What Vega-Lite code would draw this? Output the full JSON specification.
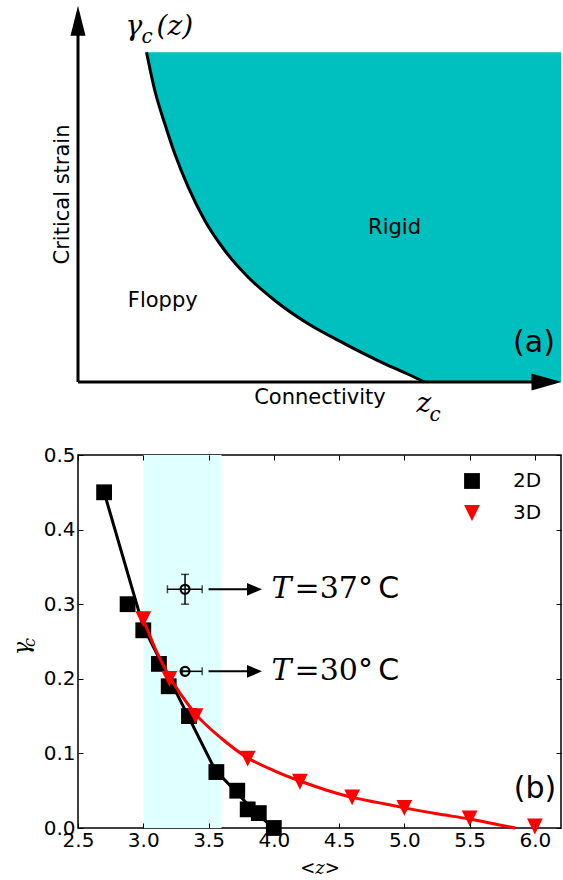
{
  "$schema": "https://vega.github.io/schema/vega-lite/v6.json",
  "padding": {"left": 10, "top": 5, "right": 0, "bottom": 0},
  "spacing": 19,
  "config": {"font": "DejaVu Sans", "view": {"stroke": null}},
  "resolve": {"scale": {"color": "independent", "shape": "independent"}, "legend": {"color": "independent", "shape": "independent"}},
  "datasets": {
    "curve": [
      {"conn": 1.418, "strain": 8.771},
      {"conn": 1.590, "strain": 7.753},
      {"conn": 1.797, "strain": 6.867},
      {"conn": 2.004, "strain": 6.069},
      {"conn": 2.282, "strain": 5.181},
      {"conn": 2.625, "strain": 4.295},
      {"conn": 3.039, "strain": 3.497},
      {"conn": 3.524, "strain": 2.787},
      {"conn": 4.075, "strain": 2.168},
      {"conn": 4.766, "strain": 1.548},
      {"conn": 5.524, "strain": 1.016},
      {"conn": 6.352, "strain": 0.484},
      {"conn": 6.801, "strain": 0.226},
      {"conn": 7.174, "strain": 0.0},
      {"conn": 10.0, "strain": 0.0}
    ],
    "pts": [
      {"z": 2.7, "gamma": 0.45, "series": "2D"},
      {"z": 2.88, "gamma": 0.30, "series": "2D"},
      {"z": 3.0, "gamma": 0.265, "series": "2D"},
      {"z": 3.12, "gamma": 0.22, "series": "2D"},
      {"z": 3.195, "gamma": 0.19, "series": "2D"},
      {"z": 3.35, "gamma": 0.15, "series": "2D"},
      {"z": 3.56, "gamma": 0.075, "series": "2D"},
      {"z": 3.72, "gamma": 0.05, "series": "2D"},
      {"z": 3.80, "gamma": 0.025, "series": "2D"},
      {"z": 3.885, "gamma": 0.02, "series": "2D"},
      {"z": 4.0, "gamma": 0.0, "series": "2D"},
      {"z": 3.0, "gamma": 0.28, "series": "3D"},
      {"z": 3.2, "gamma": 0.2, "series": "3D"},
      {"z": 3.4, "gamma": 0.15, "series": "3D"},
      {"z": 3.8, "gamma": 0.093, "series": "3D"},
      {"z": 4.2, "gamma": 0.062, "series": "3D"},
      {"z": 4.6, "gamma": 0.041, "series": "3D"},
      {"z": 5.0, "gamma": 0.027, "series": "3D"},
      {"z": 5.5, "gamma": 0.013, "series": "3D"},
      {"z": 6.0, "gamma": 0.002, "series": "3D"}
    ],
    "fit": [
      {"z": 2.7, "gamma": 0.45, "series": "2D"},
      {"z": 3.0, "gamma": 0.27, "series": "2D"},
      {"z": 3.55, "gamma": 0.078, "series": "2D"},
      {"z": 3.72, "gamma": 0.047, "series": "2D"},
      {"z": 3.85, "gamma": 0.022, "series": "2D"},
      {"z": 4.0, "gamma": 0.0, "series": "2D"},
      {"z": 2.96, "gamma": 0.29, "series": "3D"},
      {"z": 3.0, "gamma": 0.278, "series": "3D"},
      {"z": 3.1, "gamma": 0.237, "series": "3D"},
      {"z": 3.2, "gamma": 0.203, "series": "3D"},
      {"z": 3.3, "gamma": 0.176, "series": "3D"},
      {"z": 3.4, "gamma": 0.153, "series": "3D"},
      {"z": 3.6, "gamma": 0.12, "series": "3D"},
      {"z": 3.8, "gamma": 0.094, "series": "3D"},
      {"z": 4.0, "gamma": 0.077, "series": "3D"},
      {"z": 4.2, "gamma": 0.063, "series": "3D"},
      {"z": 4.4, "gamma": 0.051, "series": "3D"},
      {"z": 4.6, "gamma": 0.041, "series": "3D"},
      {"z": 4.8, "gamma": 0.034, "series": "3D"},
      {"z": 5.0, "gamma": 0.027, "series": "3D"},
      {"z": 5.25, "gamma": 0.019, "series": "3D"},
      {"z": 5.5, "gamma": 0.012, "series": "3D"},
      {"z": 5.7, "gamma": 0.005, "series": "3D"},
      {"z": 5.85, "gamma": 0.0, "series": "3D"}
    ],
    "obs": [
      {"z": 3.32, "gamma": 0.32, "zlo": 3.185, "zhi": 3.451, "glo": 0.30, "ghi": 0.34, "eq": "=37°"},
      {"z": 3.32, "gamma": 0.21, "zlo": 3.30, "zhi": 3.451, "glo": 0.21, "ghi": 0.21, "eq": "=30°"}
    ]
  },
  "vconcat": [
    {
      "width": 483,
      "height": 376,
      "view": {"stroke": null},
      "layer": [
        {
          "data": {"name": "curve"},
          "mark": {"type": "area", "color": "#00bfbf", "interpolate": "monotone"},
          "encoding": {
            "x": {"field": "conn", "type": "quantitative", "scale": {"domain": [0, 10], "nice": false, "zero": false}, "axis": null},
            "y": {"field": "strain", "type": "quantitative", "scale": {"domain": [0, 10], "nice": false, "zero": false}, "axis": null},
            "y2": {"datum": 8.771}
          }
        },
        {
          "data": {"name": "curve"},
          "transform": [{"filter": "datum.conn <= 7.2"}],
          "mark": {"type": "line", "color": "black", "strokeWidth": 3, "interpolate": "monotone"},
          "encoding": {
            "x": {"field": "conn", "type": "quantitative"},
            "y": {"field": "strain", "type": "quantitative"}
          }
        },
        {
          "data": {"values": [{"axis": "strain"}]},
          "mark": {"type": "rule", "color": "black", "strokeWidth": 3},
          "encoding": {"x": {"datum": 0}, "y": {"datum": 0}, "y2": {"datum": 9.25}}
        },
        {
          "data": {"values": [{"axis": "connectivity"}]},
          "mark": {"type": "rule", "color": "black", "strokeWidth": 3},
          "encoding": {"x": {"datum": 0}, "x2": {"datum": 9.4}, "y": {"datum": 0}}
        },
        {
          "data": {"values": [{"axis": "strain"}]},
          "mark": {"type": "point", "shape": "M0,-1L0.5,1L-0.5,1Z", "filled": true, "color": "black", "size": 900, "opacity": 1},
          "encoding": {"x": {"datum": 0}, "y": {"datum": 9.61}}
        },
        {
          "data": {"values": [{"axis": "connectivity"}]},
          "mark": {"type": "point", "shape": "M1,0L-1,-0.57L-1,0.57Z", "filled": true, "color": "black", "size": 900, "opacity": 1},
          "encoding": {"x": {"datum": 9.70}, "y": {"datum": 0}}
        },
        {
          "data": {"values": [{"t": "γ"}]},
          "mark": {"type": "text", "font": "DejaVu Serif", "fontStyle": "italic", "fontSize": 28, "align": "left", "baseline": "alphabetic", "color": "black"},
          "encoding": {"x": {"datum": 0.983}, "y": {"datum": 9.242}, "text": {"field": "t"}}
        },
        {
          "data": {"values": [{"t": "c"}]},
          "mark": {"type": "text", "font": "DejaVu Serif", "fontStyle": "italic", "fontSize": 20, "align": "left", "baseline": "alphabetic", "color": "black"},
          "encoding": {"x": {"datum": 1.315}, "y": {"datum": 9.003}, "text": {"field": "t"}}
        },
        {
          "data": {"values": [{"t": "(z)"}]},
          "mark": {"type": "text", "font": "DejaVu Serif", "fontStyle": "italic", "fontSize": 28, "align": "left", "baseline": "alphabetic", "color": "black"},
          "encoding": {"x": {"datum": 1.625}, "y": {"datum": 9.242}, "text": {"field": "t"}}
        },
        {
          "data": {"values": [{"t": "Critical strain"}]},
          "mark": {"type": "text", "fontSize": 21, "angle": 270, "align": "center", "baseline": "alphabetic", "color": "black"},
          "encoding": {"x": {"datum": -0.176}, "y": {"datum": 4.987}, "text": {"field": "t"}}
        },
        {
          "data": {"values": [{"t": "Rigid"}]},
          "mark": {"type": "text", "fontSize": 21, "align": "center", "baseline": "alphabetic", "color": "black"},
          "encoding": {"x": {"datum": 6.553}, "y": {"datum": 3.949}, "text": {"field": "t"}}
        },
        {
          "data": {"values": [{"t": "Floppy"}]},
          "mark": {"type": "text", "fontSize": 21, "align": "center", "baseline": "alphabetic", "color": "black"},
          "encoding": {"x": {"datum": 1.754}, "y": {"datum": 1.989}, "text": {"field": "t"}}
        },
        {
          "data": {"values": [{"t": "Connectivity"}]},
          "mark": {"type": "text", "fontSize": 21, "align": "center", "baseline": "alphabetic", "color": "black"},
          "encoding": {"x": {"datum": 5.01}, "y": {"datum": -0.58}, "text": {"field": "t"}}
        },
        {
          "data": {"values": [{"t": "z"}]},
          "mark": {"type": "text", "font": "DejaVu Serif", "fontStyle": "italic", "fontSize": 28, "align": "left", "baseline": "alphabetic", "color": "black"},
          "encoding": {"x": {"datum": 7.008}, "y": {"datum": -0.785}, "text": {"field": "t"}}
        },
        {
          "data": {"values": [{"t": "c"}]},
          "mark": {"type": "text", "font": "DejaVu Serif", "fontStyle": "italic", "fontSize": 20, "align": "left", "baseline": "alphabetic", "color": "black"},
          "encoding": {"x": {"datum": 7.28}, "y": {"datum": -1.024}, "text": {"field": "t"}}
        },
        {
          "data": {"values": [{"t": "(a)"}]},
          "mark": {"type": "text", "fontSize": 30, "align": "center", "baseline": "alphabetic", "color": "black"},
          "encoding": {"x": {"datum": 9.441}, "y": {"datum": 0.811}, "text": {"field": "t"}}
        }
      ]
    },
    {
      "width": 483,
      "height": 373,
      "view": {"stroke": "black", "strokeWidth": 1.5},
      "resolve": {"axis": {"x": "independent", "y": "independent"}},
      "layer": [
        {
          "data": {"values": [{"lo": 3.0, "hi": 3.6}]},
          "mark": {"type": "rect", "color": "#e0ffff"},
          "encoding": {
            "x": {"field": "lo", "type": "quantitative", "scale": {"domain": [2.5, 6.2], "nice": false, "zero": false},
              "axis": {"orient": "bottom", "values": [2.5, 3, 3.5, 4, 4.5, 5, 5.5, 6], "format": ".1f", "labelFlush": false, "labelOverlap": false, "labelFont": "DejaVu Sans", "labelFontSize": 20, "labelColor": "black", "tickColor": "black", "tickSize": -5, "tickWidth": 1, "domain": false, "grid": false, "labelPadding": 7, "title": "<z>", "titleFont": "DejaVu Serif", "titleFontStyle": "italic", "titleFontWeight": "normal", "titleFontSize": 18, "titleColor": "black", "titlePadding": 9, "zindex": 1}},
            "x2": {"field": "hi"},
            "y": {"datum": 0, "type": "quantitative", "scale": {"domain": [0, 0.5], "nice": false, "zero": false},
              "axis": {"orient": "left", "values": [0, 0.1, 0.2, 0.3, 0.4, 0.5], "format": ".1f", "labelFlush": false, "labelOverlap": false, "labelFont": "DejaVu Sans", "labelFontSize": 20, "labelColor": "black", "tickColor": "black", "tickSize": -5, "tickWidth": 1, "domain": false, "grid": false, "labelPadding": 8, "title": null, "zindex": 1}},
            "y2": {"datum": 0.5}
          }
        },
        {
          "data": {"name": "fit"},
          "transform": [{"filter": "datum.series == '2D'"}],
          "mark": {"type": "line", "color": "black", "strokeWidth": 3},
          "encoding": {
            "x": {"field": "z", "type": "quantitative",
              "axis": {"orient": "top", "values": [2.5, 3, 3.5, 4, 4.5, 5, 5.5, 6], "labels": false, "tickColor": "black", "tickSize": -5, "tickWidth": 1, "domain": false, "grid": false, "title": null, "zindex": 1}},
            "y": {"field": "gamma", "type": "quantitative",
              "axis": {"orient": "right", "values": [0, 0.1, 0.2, 0.3, 0.4, 0.5], "labels": false, "tickColor": "black", "tickSize": -5, "tickWidth": 1, "domain": false, "grid": false, "title": null, "zindex": 1}}
          }
        },
        {
          "data": {"name": "pts"},
          "transform": [{"filter": "datum.series == '2D'"}],
          "mark": {"type": "point", "filled": true, "size": 250, "opacity": 1},
          "encoding": {
            "x": {"field": "z", "type": "quantitative", "axis": null},
            "y": {"field": "gamma", "type": "quantitative", "axis": null},
            "shape": {"field": "series", "type": "nominal", "scale": {"domain": ["2D", "3D"], "range": ["square", "M-1,-1L1,-1L0,1Z"]},
              "legend": {"title": null, "orient": "none", "legendX": 384, "legendY": 16, "labelFont": "DejaVu Sans", "labelFontSize": 20, "labelColor": "black", "labelOffset": 31, "rowPadding": 12, "padding": 0, "symbolSize": 250, "symbolStrokeWidth": 0}},
            "color": {"field": "series", "type": "nominal", "scale": {"domain": ["2D", "3D"], "range": ["black", "red"]},
              "legend": {"title": null, "orient": "none", "legendX": 384, "legendY": 16, "labelFont": "DejaVu Sans", "labelFontSize": 20, "labelColor": "black", "labelOffset": 31, "rowPadding": 12, "padding": 0, "symbolSize": 250, "symbolStrokeWidth": 0}}
          }
        },
        {
          "data": {"name": "fit"},
          "transform": [{"filter": "datum.series == '3D'"}],
          "mark": {"type": "line", "color": "red", "strokeWidth": 3, "interpolate": "monotone"},
          "encoding": {
            "x": {"field": "z", "type": "quantitative", "axis": null},
            "y": {"field": "gamma", "type": "quantitative", "axis": null}
          }
        },
        {
          "data": {"name": "pts"},
          "transform": [{"filter": "datum.series == '3D'"}],
          "mark": {"type": "point", "filled": true, "size": 250, "opacity": 1},
          "encoding": {
            "x": {"field": "z", "type": "quantitative", "axis": null},
            "y": {"field": "gamma", "type": "quantitative", "axis": null},
            "shape": {"field": "series", "type": "nominal"},
            "color": {"field": "series", "type": "nominal"}
          }
        },
        {
          "data": {"name": "obs"},
          "mark": {"type": "errorbar", "color": "black", "thickness": 1.5, "ticks": {"size": 8}},
          "encoding": {
            "x": {"field": "zlo", "type": "quantitative", "axis": null},
            "x2": {"field": "zhi"},
            "y": {"field": "gamma", "type": "quantitative", "axis": null}
          }
        },
        {
          "data": {"name": "obs"},
          "mark": {"type": "errorbar", "color": "black", "thickness": 1.5, "ticks": {"size": 8}},
          "encoding": {
            "y": {"field": "glo", "type": "quantitative", "axis": null},
            "y2": {"field": "ghi"},
            "x": {"field": "z", "type": "quantitative", "axis": null}
          }
        },
        {
          "data": {"name": "obs"},
          "mark": {"type": "point", "shape": "circle", "filled": false, "stroke": "black", "strokeWidth": 2.2, "size": 80, "opacity": 1},
          "encoding": {
            "x": {"field": "z", "type": "quantitative", "axis": null},
            "y": {"field": "gamma", "type": "quantitative", "axis": null}
          }
        },
        {
          "data": {"name": "obs"},
          "mark": {"type": "rule", "color": "black", "strokeWidth": 2},
          "encoding": {
            "x": {"datum": 3.5, "type": "quantitative", "axis": null},
            "x2": {"datum": 3.82},
            "y": {"field": "gamma", "type": "quantitative", "axis": null}
          }
        },
        {
          "data": {"name": "obs"},
          "mark": {"type": "point", "shape": "M1,0L-1,-0.85L-1,0.85Z", "filled": true, "color": "black", "size": 225, "opacity": 1},
          "encoding": {
            "x": {"datum": 3.852, "type": "quantitative", "axis": null},
            "y": {"field": "gamma", "type": "quantitative", "axis": null}
          }
        },
        {
          "data": {"name": "obs"},
          "mark": {"type": "text", "text": "T", "font": "DejaVu Serif", "fontStyle": "italic", "fontSize": 30, "align": "left", "baseline": "middle", "color": "black"},
          "encoding": {
            "x": {"datum": 3.983, "type": "quantitative", "axis": null},
            "y": {"field": "gamma", "type": "quantitative", "axis": null}
          }
        },
        {
          "data": {"name": "obs"},
          "mark": {"type": "text", "font": "DejaVu Serif", "fontSize": 30, "align": "left", "baseline": "middle", "color": "black"},
          "encoding": {
            "x": {"datum": 4.159, "type": "quantitative", "axis": null},
            "y": {"field": "gamma", "type": "quantitative", "axis": null},
            "text": {"field": "eq"}
          }
        },
        {
          "data": {"name": "obs"},
          "mark": {"type": "text", "text": "C", "font": "DejaVu Sans", "fontSize": 30, "align": "left", "baseline": "middle", "color": "black"},
          "encoding": {
            "x": {"datum": 4.8, "type": "quantitative", "axis": null},
            "y": {"field": "gamma", "type": "quantitative", "axis": null}
          }
        },
        {
          "data": {"values": [{"t": "(b)"}]},
          "mark": {"type": "text", "fontSize": 30, "align": "center", "baseline": "alphabetic", "color": "black"},
          "encoding": {
            "x": {"datum": 6.0, "type": "quantitative", "axis": null},
            "y": {"datum": 0.0405, "type": "quantitative", "axis": null},
            "text": {"field": "t"}
          }
        },
        {
          "data": {"values": [{"t": "γ"}]},
          "mark": {"type": "text", "font": "DejaVu Serif", "fontStyle": "italic", "fontSize": 22, "angle": 270, "align": "left", "baseline": "alphabetic", "color": "black"},
          "encoding": {
            "x": {"datum": 2.128, "type": "quantitative", "axis": null},
            "y": {"datum": 0.2319, "type": "quantitative", "axis": null},
            "text": {"field": "t"}
          }
        },
        {
          "data": {"values": [{"t": "c"}]},
          "mark": {"type": "text", "font": "DejaVu Serif", "fontStyle": "italic", "fontSize": 16, "angle": 270, "align": "left", "baseline": "alphabetic", "color": "black"},
          "encoding": {
            "x": {"datum": 2.167, "type": "quantitative", "axis": null},
            "y": {"datum": 0.2426, "type": "quantitative", "axis": null},
            "text": {"field": "t"}
          }
        }
      ]
    }
  ]
}
